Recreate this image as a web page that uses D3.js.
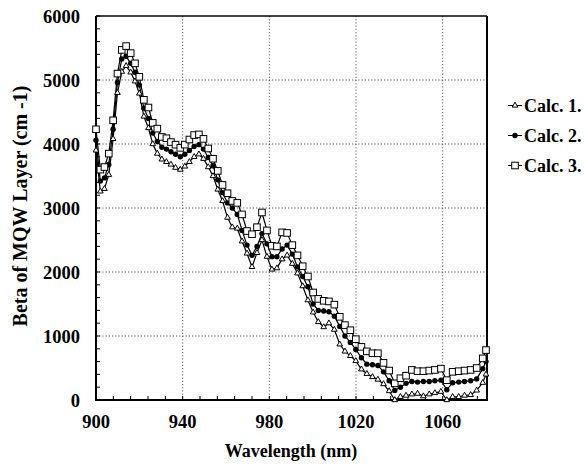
<!DOCTYPE html>
<html><head><meta charset="utf-8">
<script src="https://cdn.jsdelivr.net/npm/d3@7"></script>
<style>html,body{margin:0;padding:0;background:#fff;}svg{display:block;}
text{font-family:"Liberation Serif","DejaVu Serif","Times New Roman",serif;font-weight:bold;}</style>
</head><body><svg id="c" width="585" height="469"></svg>
<script>
const wavelengths = [900, 902, 903.9, 905.9, 907.9, 909.9, 911.9, 913.9, 916, 918, 920, 922.1, 924.2, 926.2, 928.3, 930.4, 932.5, 934.6, 936.7, 938.9, 941, 943.1, 945.3, 947.5, 949.6, 951.8, 954, 956.2, 958.4, 960.7, 962.9, 965.2, 967.4, 969.7, 972, 974.3, 976.6, 978.9, 981.2, 983.5, 985.9, 988.2, 990.6, 993, 995.4, 997.8, 1000.2, 1002.6, 1005.1, 1007.5, 1010, 1012.5, 1014.9, 1017.4, 1019.9, 1022.5, 1025, 1027.6, 1030.1, 1032.7, 1035.3, 1037.9, 1040.5, 1043.1, 1045.8, 1048.4, 1051.1, 1053.8, 1056.4, 1059.2, 1061.9, 1064.6, 1067.4, 1070.1, 1072.9, 1075.7, 1078.5, 1080];
const calc1 = [3900, 3260, 3300, 3520, 4080, 4800, 5130, 5220, 5120, 4980, 4790, 4430, 4250, 4000, 3850, 3760, 3720, 3680, 3630, 3600, 3650, 3720, 3800, 3840, 3770, 3640, 3500, 3290, 3110, 2850, 2700, 2680, 2480, 2290, 2080, 2300, 2500, 2240, 2040, 2060, 2200, 2260, 2130, 1980, 1780, 1560, 1370, 1220, 1140, 1200, 1100, 870, 760, 690, 610, 480, 410, 360, 320, 250, 140, 0, 50, 70, 90, 100, 60, 90, 110, 130, 0, 50, 50, 70, 80, 150, 270, 400];
const calc2 = [4060, 3420, 3470, 3680, 4230, 4960, 5330, 5370, 5260, 5120, 4920, 4560, 4400, 4170, 4040, 3950, 3920, 3880, 3840, 3800, 3840, 3900, 3960, 3990, 3920, 3790, 3660, 3440, 3240, 3080, 3000, 2900, 2650, 2420, 2260, 2400, 2600, 2440, 2240, 2240, 2360, 2420, 2280, 2080, 1930, 1770, 1500, 1400, 1390, 1380, 1310, 1150, 1000, 900, 790, 660, 560, 550, 540, 440, 300, 150, 200, 260, 290, 280, 290, 290, 300, 310, 160, 270, 280, 290, 300, 330, 490, 600];
const calc3 = [4230, 3600, 3640, 3850, 4370, 5100, 5470, 5530, 5420, 5260, 5050, 4690, 4570, 4330, 4240, 4110, 4090, 4030, 3990, 3940, 3990, 4070, 4140, 4150, 4080, 3930, 3770, 3580, 3360, 3230, 3110, 3080, 2900, 2640, 2590, 2700, 2930, 2650, 2410, 2400, 2620, 2610, 2420, 2260, 2090, 1930, 1680, 1580, 1550, 1540, 1490, 1300, 1170, 1090, 950, 830, 760, 730, 730, 580, 460, 260, 340, 380, 470, 450, 450, 460, 470, 490, 310, 440, 450, 460, 470, 500, 650, 780];
const seriesNames = ["Calc. 1.", "Calc. 2.", "Calc. 3."];
const xTicks = [900, 940, 980, 1020, 1060];
const yTicks = [0, 1000, 2000, 3000, 4000, 5000, 6000];

const svg = d3.select("#c");
const L = 96, R = 487, T = 16, B = 400;
const x = d3.scaleLinear().domain([900, 1080]).range([L, R - 1]);
const y = d3.scaleLinear().domain([0, 6000]).range([B, T]);

// grid
const grid = svg.append("g").attr("stroke", "#444").attr("stroke-width", 0.9).attr("stroke-dasharray", "1.2,2");
xTicks.slice(1).forEach(v => grid.append("line").attr("x1", x(v)).attr("x2", x(v)).attr("y1", T).attr("y2", B));
yTicks.slice(1, -1).forEach(v => grid.append("line").attr("x1", L).attr("x2", R).attr("y1", y(v)).attr("y2", y(v)));

// minor ticks
const tk = svg.append("g").attr("stroke", "#000").attr("stroke-width", 1);
d3.range(900, 1081, 8).forEach(v => { if (v > 900) tk.append("line").attr("x1", x(v)).attr("x2", x(v)).attr("y1", B).attr("y2", B - 4); });
d3.range(0, 6001, 200).forEach(v => tk.append("line").attr("x1", L).attr("x2", L + 4).attr("y1", y(v)).attr("y2", y(v)));

// frame
svg.append("line").attr("x1", L).attr("x2", R).attr("y1", T).attr("y2", T).attr("stroke", "#000").attr("stroke-width", 1.5);
svg.append("line").attr("x1", R).attr("x2", R).attr("y1", T).attr("y2", B).attr("stroke", "#000").attr("stroke-width", 2);
svg.append("line").attr("x1", L).attr("x2", L).attr("y1", T).attr("y2", B + 1).attr("stroke", "#000").attr("stroke-width", 2);
svg.append("line").attr("x1", L - 1).attr("x2", R + 1).attr("y1", B).attr("y2", B).attr("stroke", "#000").attr("stroke-width", 2);

// tick labels
svg.append("g").selectAll("text").data(yTicks).join("text")
  .attr("x", 80).attr("y", d => y(d) + 6.5).attr("text-anchor", "end")
  .attr("font-size", 18.5).text(d => d);
svg.append("g").selectAll("text").data(xTicks).join("text")
  .attr("x", d => x(d)).attr("y", 428).attr("text-anchor", "middle")
  .attr("font-size", 18.5).text(d => d);

// titles
svg.append("text").attr("x", 291).attr("y", 457).attr("text-anchor", "middle")
  .attr("font-size", 18).text("Wavelength (nm)");
svg.append("text").attr("transform", "translate(27,206) rotate(-90)").attr("text-anchor", "middle")
  .attr("font-size", 20).text("Beta of MQW Layer (cm -1)");

// data
const all = [calc1, calc2, calc3];
const line = d3.line().x((d, i) => x(wavelengths[i])).y(d => y(d));
all.forEach(s => svg.append("path").attr("d", line(s)).attr("fill", "none").attr("stroke", "#000").attr("stroke-width", 1.2));

const tri = d3.symbol().type(d3.symbolTriangle).size(14);
function drawMarker(g, k, cx, cy) {
  if (k === 0) g.append("path").attr("d", tri()).attr("transform", `translate(${cx},${cy})`).attr("fill", "#fff").attr("stroke", "#000").attr("stroke-width", 1);
  else if (k === 1) g.append("circle").attr("cx", cx).attr("cy", cy).attr("r", 2.7).attr("fill", "#000");
  else g.append("rect").attr("x", cx - 3.3).attr("y", cy - 3.3).attr("width", 6.6).attr("height", 6.6).attr("fill", "#fff").attr("stroke", "#000").attr("stroke-width", 1);
}
all.forEach((s, k) => {
  const g = svg.append("g");
  s.forEach((v, i) => drawMarker(g, k, x(wavelengths[i]), y(v)));
});

// legend
const legY = [105.5, 135.5, 165.5];
seriesNames.forEach((nm, k) => {
  svg.append("line").attr("x1", 508).attr("x2", 522).attr("y1", legY[k]).attr("y2", legY[k]).attr("stroke", "#000").attr("stroke-width", 1);
  drawMarker(svg.append("g"), k, 515, legY[k]);
  svg.append("text").attr("x", 524).attr("y", legY[k] + 6).attr("font-size", 18).text(nm);
});
</script></body></html>
